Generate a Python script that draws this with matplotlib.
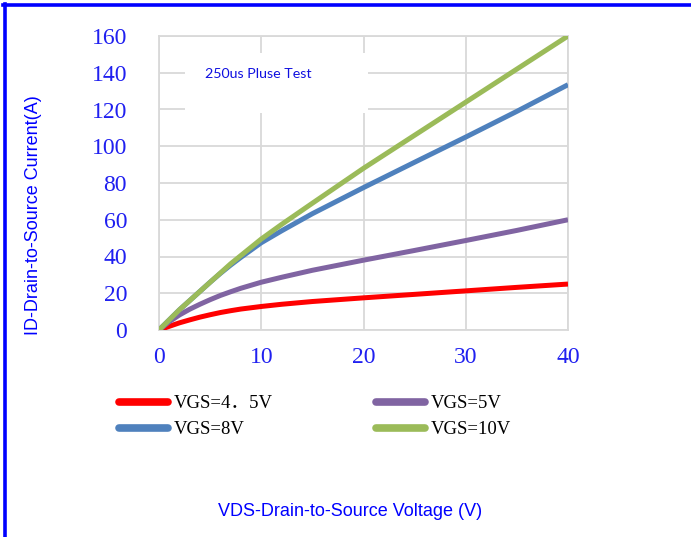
import matplotlib
matplotlib.use("Agg")
import matplotlib.pyplot as plt
from matplotlib.patches import Rectangle
from matplotlib.lines import Line2D

# ---- data ----
vds = [0, 1, 2, 3, 4, 5, 6, 7, 8, 10, 12, 15, 20, 25, 30, 35, 40]
id_vgs45 = [0, 2.0, 3.9, 5.5, 7.0, 8.3, 9.5, 10.5, 11.4, 12.8, 14.0, 15.5, 17.5, 19.4, 21.3, 23.2, 25.0]
id_vgs5 = [0, 4.5, 8.2, 11.3, 14.0, 16.5, 18.8, 20.8, 22.7, 26.0, 28.7, 32.5, 38.0, 43.3, 48.7, 54.2, 60.0]
id_vgs8 = [0, 5.5, 11.0, 16.0, 21.0, 26.0, 30.8, 35.3, 39.5, 47.5, 54.0, 63.3, 77.5, 91.3, 105.0, 119.0, 133.5]
id_vgs10 = [0, 5.5, 11.0, 16.0, 21.0, 26.0, 31.0, 36.0, 40.5, 49.5, 57.5, 69.0, 88.0, 106.0, 124.0, 142.0, 160.0]
labels = ["VGS=4\uff0e5V", "VGS=5V", "VGS=8V", "VGS=10V"]
colors = ["#FF0000", "#8064A2", "#4F81BD", "#9BBB59"]
xticks = [0, 10, 20, 30, 40]
yticks = [0, 20, 40, 60, 80, 100, 120, 140, 160]

W, H = 691, 537
fig = plt.figure(figsize=(W / 100, H / 100), dpi=100)
ax = fig.add_axes([159 / W, 1 - 330 / H, 409 / W, 294 / H])

series = [id_vgs45, id_vgs5, id_vgs8, id_vgs10]
handles = []
for ys, c, lab in zip(series, colors, labels):
    ln, = ax.plot(vds, ys, color=c, lw=3.6, solid_capstyle="butt",
                  solid_joinstyle="round", zorder=3, label=lab)
    handles.append(ln)

ax.set_xlim(0, 40)
ax.set_ylim(0, 160)
ax.set_xticks(xticks)
ax.set_yticks(yticks)
ax.grid(True, color="#D9D9D9", lw=1.3, zorder=0)
ax.set_axisbelow(True)
for s in ax.spines.values():
    s.set_color("#D9D9D9")
    s.set_linewidth(1.3)
ax.tick_params(length=0, labelcolor="#2020F0")
for lbl in ax.get_xticklabels() + ax.get_yticklabels():
    lbl.set_family("Liberation Serif")
    lbl.set_fontsize(17)
ax.tick_params(axis="y", pad=23)
ax.tick_params(axis="x", pad=12)

# white text box
ax.add_patch(Rectangle((26 / 409, (330 - 113) / 294), (368 - 185) / 409, 60 / 294,
                       transform=ax.transAxes, facecolor="white", edgecolor="none", zorder=1.5))
ax.text((205 - 159) / 409, (330 - 74) / 294, "250us Pluse Test", transform=ax.transAxes,
        family="Lato", fontsize=10.3, color="#1010E0", va="center", ha="left", zorder=2)

# axis labels
fig.text(350 / W, 1 - 511 / H, "VDS-Drain-to-Source Voltage (V)", family="Liberation Sans",
         fontsize=13, color="#0000FF", ha="center", va="center")
fig.text(34 / W, 1 - 215 / H, "ID-Drain-to-Source Current(A)", family="Liberation Sans",
         fontsize=13, color="#0000FF", ha="center", va="center", rotation=90)

# legends
def mk(h):
    return Line2D([0], [0], color=h.get_color(), lw=5.5, solid_capstyle="round")

leg_kw = dict(frameon=False, borderpad=0, handlelength=2.6, handletextpad=0.3,
              labelspacing=0.47, prop={"family": ["Liberation Serif", "Noto Sans CJK SC"], "size": 13.5},
              loc="upper left", bbox_transform=fig.transFigure)
leg1 = fig.legend([mk(handles[0]), mk(handles[2])], [labels[0], labels[2]],
                  bbox_to_anchor=(110 / W, 1 - 386 / H), **leg_kw)
leg2 = fig.legend([mk(handles[1]), mk(handles[3])], [labels[1], labels[3]],
                  bbox_to_anchor=(367 / W, 1 - 386 / H), **leg_kw)

# blue border (left and top)
fig.add_artist(Line2D([4.5 / W, 4.5 / W], [0, 1 - 4 / H], transform=fig.transFigure, color="#0000FF", lw=2.6))
fig.add_artist(Line2D([3 / W, 1], [1 - 5 / H, 1 - 5 / H], transform=fig.transFigure, color="#0000FF", lw=2.6))

fig.savefig("out.png", dpi=100)
